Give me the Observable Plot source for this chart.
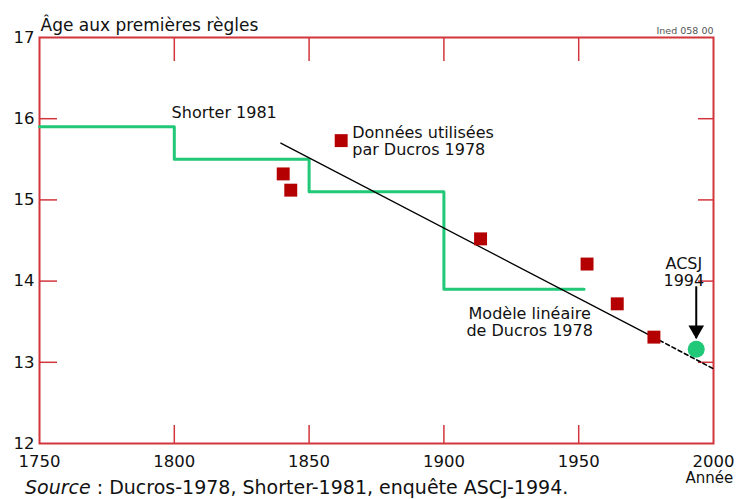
<!DOCTYPE html>
<html><head><meta charset="utf-8">
<script src="https://cdn.jsdelivr.net/npm/d3@7"></script>
<script src="https://cdn.jsdelivr.net/npm/@observablehq/plot@0.6"></script>
<style>
body{margin:0;background:#fff;}
#wrap{position:relative;width:740px;height:499px;overflow:hidden;font-family:"DejaVu Sans",sans-serif;}
#cap{position:absolute;left:25px;top:477px;font-size:19px;line-height:21px;color:#111;white-space:nowrap;}
</style></head><body>
<div id="wrap"><div id="chart"></div><div id="cap"><i>Source</i> : Ducros-1978, Shorter-1981, enquête ASCJ-1994.</div></div>
<script>
const xTicks = [1750, 1800, 1850, 1900, 1950, 2000];
const yTicks = [12, 13, 14, 15, 16, 17];
const shorterYears = [1750, 1800, 1850, 1900, 1952];
const shorterAges = [15.9, 15.5, 15.1, 13.9, 13.9];
const ducrosYears = [1840.4, 1843.2, 1913.6, 1953.1, 1964.3, 1977.9];
const ducrosAges = [15.32, 15.12, 14.52, 14.21, 13.72, 13.31];
const legendYears = [1861.9];
const legendAges = [15.73];
const modelYears = [1839.5, 1980, 2000];
const modelAges = [15.70, 13.27, 12.92];
const acsjYears = [1993.6];
const acsjAges = [13.16];
const arrowYears = [1993.6];
const arrowFromAges = [13.93];
const arrowToAges = [13.29];
const startLabelTexts = ["Shorter 1981", "Données utilisées\npar Ducros 1978"];
const startLabelYears = [1799, 1866];
const startLabelAges = [16.07, 15.72];
const midLabelTexts = ["Modèle linéaire\nde Ducros 1978", "ACSJ\n1994"];
const midLabelYears = [1931.8, 1989];
const midLabelAges = [13.49, 14.11];

const RED = "#d2353b", GREEN = "#20c878", DARKRED = "#b40000";
const FONT = "DejaVu Sans";
const W = 740, H = 499, ML = 39, MR = 27, MT = 37, MB = 56;
const PW = W - ML - MR, PH = H - MT - MB;

const shorter = shorterYears.map((x, i) => ({x, y: shorterAges[i]}));
const ducros = ducrosYears.map((x, i) => ({x, y: ducrosAges[i]}));
const legend = legendYears.map((x, i) => ({x, y: legendAges[i]}));
const model = modelYears.map((x, i) => ({x, y: modelAges[i]}));
const acsj = acsjYears.map((x, i) => ({x, y: acsjAges[i]}));
const arrows = arrowYears.map((x, i) => ({x, y1: arrowFromAges[i], y2: arrowToAges[i]}));
const startLabels = startLabelTexts.map((t, i) => ({t, x: startLabelYears[i], y: startLabelAges[i]}));
const midLabels = midLabelTexts.map((t, i) => ({t, x: midLabelYears[i], y: midLabelAges[i]}));
const inner = xTicks.slice(1, -1), innerY = yTicks.slice(1, -1);

const chart = Plot.plot({
  width: W, height: H,
  marginLeft: ML, marginRight: MR, marginTop: MT, marginBottom: MB,
  style: {fontFamily: FONT, background: "#fff", color: "#111"},
  x: {domain: [1750, 2000], label: null},
  y: {domain: [12, 17], label: null},
  marks: [
    Plot.frame({stroke: RED, strokeWidth: 2}),
    Plot.tickX(inner, {x: d => d, stroke: RED, strokeWidth: 1.5, insetTop: PH - 18}),
    Plot.tickX(inner, {x: d => d, stroke: RED, strokeWidth: 1.5, insetBottom: PH - 24}),
    Plot.tickY(innerY, {y: d => d, stroke: RED, strokeWidth: 1.5, insetRight: PW - 18}),
    Plot.tickY(innerY, {y: d => d, stroke: RED, strokeWidth: 1.5, insetLeft: PW - 15}),
    Plot.axisX(xTicks, {tickSize: 0, tickPadding: 12, fontSize: 16.5, tickFormat: d => String(d), fill: "#111"}),
    Plot.axisY(yTicks, {tickSize: 0, tickPadding: 5, fontSize: 16.5, tickFormat: d => String(d), fill: "#111"}),
    Plot.line(shorter, {x: "x", y: "y", curve: "step-after", stroke: GREEN, strokeWidth: 3}),
    Plot.line(model.slice(0, 2), {x: "x", y: "y", stroke: "#000", strokeWidth: 1.3}),
    Plot.line(model.slice(1), {x: "x", y: "y", stroke: "#000", strokeWidth: 1.6, strokeDasharray: "4,3", clip: false}),
    Plot.dot(ducros, {x: "x", y: "y", symbol: "square", r: 7.3, fill: DARKRED, stroke: null}),
    Plot.dot(legend, {x: "x", y: "y", symbol: "square", r: 7.3, fill: DARKRED, stroke: null}),
    Plot.dot(acsj, {x: "x", y: "y", r: 8.5, fill: GREEN, stroke: null}),
    Plot.ruleX(arrows, {x: "x", y1: "y1", y2: "y2", stroke: "#000", strokeWidth: 2}),
    Plot.dot(arrows, {x: "x", y: "y2", symbol: "triangle", rotate: 180, r: 5.8, dy: -8.7, fill: "#000", stroke: null}),
    Plot.text(startLabels, {x: "x", y: "y", text: "t", textAnchor: "start", lineHeight: 1.05, fontSize: 16, fill: "#111"}),
    Plot.text(midLabels, {x: "x", y: "y", text: "t", textAnchor: "middle", lineHeight: 1.05, fontSize: 16, fill: "#111"}),
    Plot.text(["Âge aux premières règles"], {frameAnchor: "top-left", dy: -19, dx: 1, textAnchor: "start", fontSize: 17, fill: "#111"}),
    Plot.text(["Ined 058 00"], {frameAnchor: "top-right", dy: -10, textAnchor: "end", fontSize: 9.5, fill: "#555"}),
    Plot.text(["Année"], {frameAnchor: "bottom-right", dy: 39, dx: -28, textAnchor: "start", fontSize: 15, fill: "#111"})
  ]
});
document.getElementById("chart").appendChild(chart);
</script>
</body></html>
